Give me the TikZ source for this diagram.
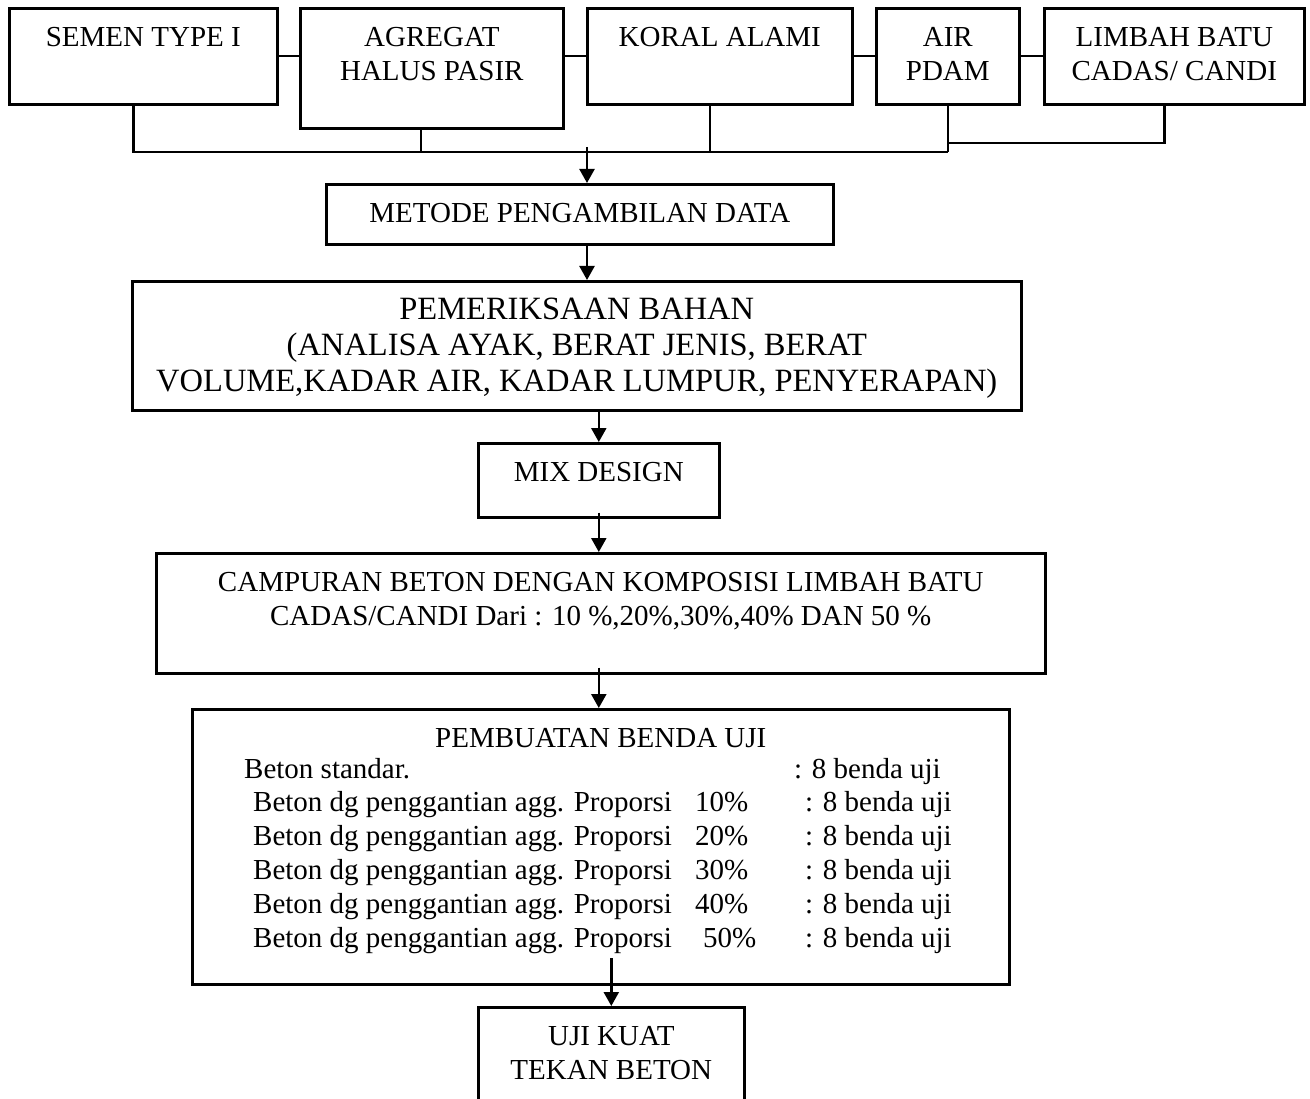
\documentclass[tikz,border=0pt]{standalone}
\usepackage{fontspec}
\setmainfont{Liberation Serif}
\usetikzlibrary{arrows.meta}
\newcommand{\boxtxt}[3]{\parbox[t][#2][t]{#1}{\centering\rule{0pt}{38pt}#3}}
\begin{document}
\begin{tikzpicture}[x=1pt,y=-1pt,line width=2.4pt,
  every node/.style={font=\fontsize{29}{34}\selectfont,inner sep=0pt},
  box/.style={draw,line width=2.6pt,anchor=north west},
  arr/.style={-{Triangle[width=15pt,length=14pt]}}]
  \useasboundingbox (0,0) rectangle (1310,1099);
  \node[box] (semen) at (8,7) {\boxtxt{268pt}{96pt}{SEMEN TYPE I}};
  \node[box] (agregat) at (299,7) {\boxtxt{263pt}{120pt}{AGREGAT\\HALUS PASIR}};
  \node[box] (koral) at (586,7) {\boxtxt{265pt}{96pt}{KORAL ALAMI}};
  \node[box] (air) at (875,7) {\boxtxt{143pt}{96pt}{AIR\\PDAM}};
  \node[box] (limbah) at (1043,7) {\boxtxt{260pt}{96pt}{LIMBAH BATU\\CADAS/ CANDI}};
  \node[box] (metode) at (325,183) {\boxtxt{507pt}{60pt}{METODE PENGAMBILAN DATA}};
  \node[box,font=\fontsize{32.5}{36}\selectfont] (periksa) at (131,280) {\boxtxt{889pt}{129pt}{PEMERIKSAAN BAHAN\\(ANALISA AYAK, BERAT JENIS, BERAT\\VOLUME,KADAR AIR, KADAR LUMPUR, PENYERAPAN)}};
  \node[box] (mix) at (477,442) {\boxtxt{241pt}{74pt}{MIX DESIGN}};
  \node[box] (campur) at (155,552) {\boxtxt{889pt}{120pt}{CAMPURAN BETON DENGAN KOMPOSISI LIMBAH BATU\\CADAS/CANDI Dari : 10 \%,20\%,30\%,40\% DAN 50 \%}};
  \node[box] (buat) at (191,708) {\boxtxt{817pt}{275pt}{PEMBUATAN BENDA UJI}};
  \node[box] (uji) at (477,1006) {\boxtxt{266pt}{95pt}{UJI KUAT\\TEKAN BETON}};
  \node[anchor=base west] (std) at (243,778) {Beton standar.};
  \node[anchor=base west] (jmlstd) at (793,778) {: 8 benda uji};
  \foreach \p/\yy/\xx in {10/811/694,20/845/694,30/879/694,40/913/694,50/947/702} {
    \node[anchor=base west] (dg\p) at (252,\yy) {Beton dg penggantian agg. Proporsi};
    \node[anchor=base west] (pct\p) at (\xx,\yy) {\p\%};
    \node[anchor=base west] (jml\p) at (804,\yy) {: 8 benda uji};
  }
  \coordinate (bus) at (587,152);
  \draw (semen.east) -- (semen.east -| agregat.west);
  \draw (koral.west -| agregat.east) -- (koral.west);
  \draw (koral.east) -- (air.west);
  \draw (air.east) -- (limbah.west);
  \draw ([xshift=-10pt]semen.south) |- (air.south |- bus);
  \draw ([xshift=-11pt]agregat.south) -- ([xshift=-11pt]agregat.south |- bus);
  \draw ([xshift=-10pt]koral.south) -- ([xshift=-10pt]koral.south |- bus);
  \draw (air.south) -- (air.south |- bus);
  \draw ([xshift=-10pt]limbah.south) |- (air.south |- 0,143);
  \draw[arr] ([yshift=5pt]bus) -- (bus |- metode.north);
  \draw[arr] (metode.south -| bus) -- (periksa.north -| bus);
  \draw[arr] (periksa.south -| mix.north) -- (mix.north);
  \draw[arr] ([yshift=6pt]mix.south) -- (campur.north -| mix.south);
  \draw[arr] ([yshift=7pt]campur.south -| mix.south) -- (buat.north -| mix.south);
  \draw[arr] (uji.north |- 0,958) -- (uji.north);
\end{tikzpicture}
\end{document}
